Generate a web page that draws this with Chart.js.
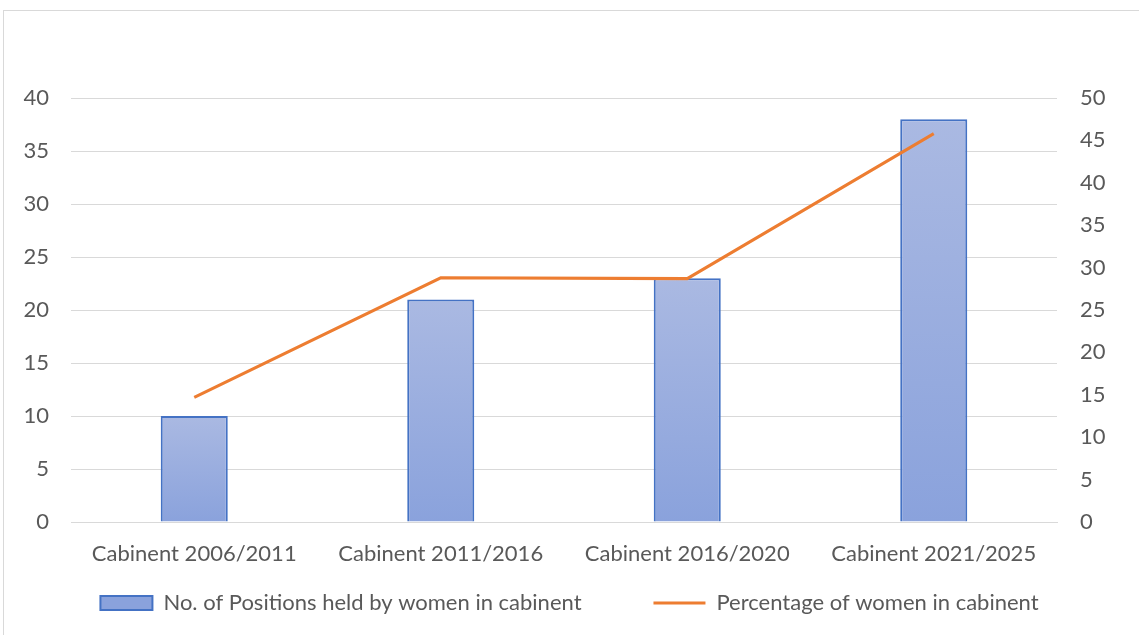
<!DOCTYPE html>
<html>
<head>
<meta charset="utf-8">
<script src="https://cdn.jsdelivr.net/npm/chart.js@4/dist/chart.umd.min.js"></script>
<style>
  html, body { margin: 0; padding: 0; background: #fff; }
  #frame {
    position: absolute; left: 3px; top: 10px; width: 1140px; height: 630px;
    border: 1px solid #d9d9d9; box-sizing: border-box;
  }
  #wrap { position: absolute; left: 0; top: 0; width: 1139px; height: 635px; }
</style>
</head>
<body>
<div id="frame"></div>
<div id="wrap"><canvas id="cabinetChart"></canvas></div>
<script>
const cabinets = ["Cabinent 2006/2011", "Cabinent 2011/2016", "Cabinent 2016/2020", "Cabinent 2021/2025"];
const positionsHeld = [10, 21, 23, 38];
const percentWomen = [14.7, 28.8, 28.7, 45.8];
const leftTicks = [0, 5, 10, 15, 20, 25, 30, 35, 40];
const rightTicks = [0, 5, 10, 15, 20, 25, 30, 35, 40, 45, 50];

const textColor = "#595959";
const gridColor = "#d9d9d9";
const fontFamily = "Lato, 'Noto Sans', sans-serif";
const fontSize = 22;

// each bar gets its own light-to-darker vertical fill
function barFill(ctx) {
  const chart = ctx.chart;
  if (!chart.chartArea || ctx.raw === undefined) return "#9cafe0";
  const y = chart.scales.y;
  const top = y.getPixelForValue(ctx.raw);
  const bottom = y.getPixelForValue(0);
  const g = chart.ctx.createLinearGradient(0, top, 0, bottom);
  g.addColorStop(0, "#aab9e2");
  g.addColorStop(1, "#8aa2dc");
  return g;
}

new Chart(document.getElementById("cabinetChart"), {
  data: {
    labels: cabinets,
    datasets: [
      {
        type: "line",
        label: "Percentage of women in cabinent",
        data: percentWomen,
        yAxisID: "y1",
        borderColor: "#ed7d31",
        backgroundColor: "#ed7d31",
        borderWidth: 3,
        pointRadius: 0,
        tension: 0,
        pointStyle: "line",
        order: 1,
      },
      {
        type: "bar",
        label: "No. of Positions held by women in cabinent",
        data: positionsHeld,
        yAxisID: "y",
        backgroundColor: barFill,
        borderColor: "#4472c4",
        borderWidth: 2,
        categoryPercentage: 1,
        barPercentage: 0.272,
        pointStyle: "rect",
        order: 2,
      },
    ],
  },
  options: {
    responsive: true,
    maintainAspectRatio: false,
    animation: false,
    layout: { padding: { top: 98, left: 0, right: 0, bottom: 11 } },
    plugins: {
      tooltip: { enabled: false },
      legend: {
        position: "bottom",
        reverse: true,
        labels: {
          usePointStyle: true,
          pointStyleWidth: 52,
          boxHeight: 14,
          padding: 10,
          color: textColor,
          font: { family: fontFamily, size: fontSize },
          // extra room after the bar entry
          generateLabels: (chart) => {
            const items = Chart.defaults.plugins.legend.labels.generateLabels(chart);
            items.forEach((it) => {
              if (it.datasetIndex === 1) it.text += "           ";
            });
            return items;
          },
        },
      },
    },
    scales: {
      x: {
        grid: { display: false, drawTicks: false },
        border: { display: true, color: gridColor },
        ticks: { color: textColor, padding: 19, font: { family: fontFamily, size: fontSize } },
        afterFit: (s) => { s.height = 60; },
      },
      y: {
        position: "left",
        min: 0,
        max: 40,
        afterBuildTicks: (s) => { s.ticks = leftTicks.map((v) => ({ value: v })); },
        grid: { color: gridColor, lineWidth: 1, drawTicks: false },
        border: { display: false },
        ticks: { color: textColor, padding: 22, font: { family: fontFamily, size: fontSize } },
        afterFit: (s) => { s.width = 71; },
      },
      y1: {
        position: "right",
        min: 0,
        max: 50,
        afterBuildTicks: (s) => { s.ticks = rightTicks.map((v) => ({ value: v })); },
        grid: { display: false, drawTicks: false },
        border: { display: false },
        ticks: { color: textColor, padding: 23, font: { family: fontFamily, size: fontSize } },
        afterFit: (s) => { s.width = 82; },
      },
    },
  },
});
</script>
</body>
</html>
